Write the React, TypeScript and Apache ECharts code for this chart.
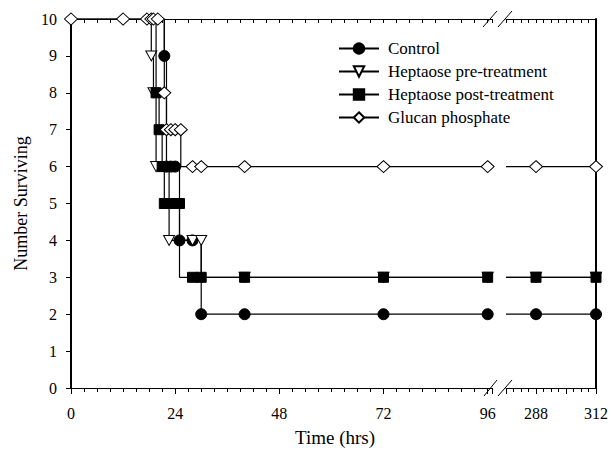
import React, { useEffect, useRef } from "react";
import * as echarts from "echarts";

// ---- data (hours, number alive, whether a marker is drawn at that point) ----
const seriesNames = ["Control", "Heptaose pre-treatment", "Heptaose post-treatment", "Glucan phosphate"];

const controlHours = [0, 21.5, 22, 23, 24, 25, 28, 30, 40, 72, 96, 288, 312];
const controlAlive = [10, 9, 6, 6, 6, 4, 4, 2, 2, 2, 2, 2, 2];
const controlMarked = [0, 1, 1, 1, 1, 1, 1, 1, 1, 1, 1, 1, 1];

const hepPreHours = [0, 18.5, 19, 19.6, 22.6, 28, 30, 30, 40, 72, 96, 288, 312];
const hepPreAlive = [10, 9, 8, 6, 4, 4, 4, 3, 3, 3, 3, 3, 3];
const hepPreMarked = [0, 1, 1, 1, 1, 1, 1, 0, 1, 1, 1, 1, 1];

const hepPostHours = [0, 19.6, 20.3, 21, 21.5, 22, 23, 24, 25, 25, 28, 30, 40, 72, 96, 288, 312];
const hepPostAlive = [10, 8, 7, 6, 5, 5, 5, 5, 5, 3, 3, 3, 3, 3, 3, 3, 3];
const hepPostMarked = [0, 1, 1, 1, 1, 1, 1, 1, 1, 0, 1, 1, 1, 1, 1, 1, 1];

const glucanHours = [0, 12, 17.5, 18.5, 19, 20, 21.5, 22, 23, 24, 25.3, 25.3, 28, 30, 40, 72, 96, 288, 312];
const glucanAlive = [10, 10, 10, 10, 10, 10, 8, 7, 7, 7, 7, 6, 6, 6, 6, 6, 6, 6, 6];
const glucanMarked = [1, 1, 1, 1, 1, 1, 1, 1, 1, 1, 1, 0, 1, 1, 1, 1, 1, 1, 1];

const leftTickLabels = [0, 24, 48, 72, 96];
const rightTickLabels = [288, 312];

// axis segments of the broken time axis
const LEFT_MIN = 0;
const LEFT_MAX = 97;
const RIGHT_MIN = 276;
const RIGHT_MAX = 312;

const FONT = "Liberation Serif";

function split(hours: number[], alive: number[], marked: number[]) {
  const left: any[] = [];
  const right: any[] = [];
  let last = alive[0];
  hours.forEach((h, i) => {
    const item: any = { value: [h, alive[i]] };
    if (!marked[i]) item.symbol = "none";
    if (h <= LEFT_MAX) {
      left.push(item);
      last = alive[i];
    } else right.push(item);
  });
  left.push({ value: [LEFT_MAX, last], symbol: "none" });
  right.unshift({ value: [RIGHT_MIN, last], symbol: "none" });
  return { left, right };
}

export default function App() {
  const ref = useRef<HTMLDivElement>(null);
  useEffect(() => {
    if (!ref.current) return;
    const chart = echarts.init(ref.current, undefined, { renderer: "svg" });

    const styles: any[] = [
      { symbol: "circle", symbolSize: 11, itemStyle: { color: "#000", borderColor: "#000", borderWidth: 1 } },
      { symbol: "triangle", symbolSize: [11, 10], symbolRotate: 180, itemStyle: { color: "#fff", borderColor: "#000", borderWidth: 1 } },
      { symbol: "rect", symbolSize: 10, itemStyle: { color: "#000", borderColor: "#000", borderWidth: 1 } },
      { symbol: "diamond", symbolSize: [13, 12], itemStyle: { color: "#fff", borderColor: "#000", borderWidth: 1 } },
    ];
    const sets = [
      split(controlHours, controlAlive, controlMarked),
      split(hepPreHours, hepPreAlive, hepPreMarked),
      split(hepPostHours, hepPostAlive, hepPostMarked),
      split(glucanHours, glucanAlive, glucanMarked),
    ];
    const series: any[] = [];
    sets.forEach((s, i) => {
      [s.left, s.right].forEach((data, g) => {
        series.push({
          type: "line",
          name: seriesNames[i],
          xAxisIndex: g === 0 ? 0 : 2,
          yAxisIndex: g,
          step: "end",
          data,
          ...styles[i],
          showAllSymbol: true,
          lineStyle: { color: "#000", width: 1.2 },
          emphasis: { disabled: true },
          z: 2 + i,
        });
      });
    });

    const axisBase = (grid: number, min: number, max: number, interval: number, split: number, top: boolean, labels: number[]) => ({
      type: "value",
      gridIndex: grid,
      position: top ? "top" : "bottom",
      min,
      max,
      interval,
      axisLine: { show: true, onZero: false, lineStyle: { color: "#000", width: 1 } },
      axisTick: { show: true, inside: top, length: top ? 4 : 6, lineStyle: { color: "#000", width: 1 } },
      minorTick: { show: true, splitNumber: split, length: 4, lineStyle: { color: "#000", width: 1 } },
      axisLabel: {
        show: !top,
        margin: 17,
        fontSize: 16,
        fontFamily: FONT,
        color: "#000",
        formatter: (v: number) => (labels.indexOf(v) >= 0 ? String(v) : ""),
      },
      splitLine: { show: false },
      minorSplitLine: { show: false },
    });

    const option: any = {
      animation: false,
      backgroundColor: "#fff",
      textStyle: { fontFamily: FONT },
      grid: [
        { left: 71, right: 119, top: 19, bottom: 66 },
        { left: 506, right: 14, top: 19, bottom: 66 },
      ],
      xAxis: [
        axisBase(0, LEFT_MIN, LEFT_MAX, 24, 8, false, leftTickLabels),
        axisBase(0, LEFT_MIN, LEFT_MAX, 24, 8, true, leftTickLabels),
        axisBase(1, RIGHT_MIN, RIGHT_MAX, 12, 4, false, rightTickLabels),
        axisBase(1, RIGHT_MIN, RIGHT_MAX, 12, 4, true, rightTickLabels),
      ],
      yAxis: [
        {
          type: "value",
          gridIndex: 0,
          min: 0,
          max: 10,
          interval: 1,
          name: "Number Surviving",
          nameLocation: "middle",
          nameGap: 41,
          nameTextStyle: { fontSize: 18, fontFamily: FONT, color: "#000" },
          axisLine: { show: true, onZero: false, lineStyle: { color: "#000", width: 2 } },
          axisTick: { show: true, length: 5, lineStyle: { color: "#000", width: 1 } },
          axisLabel: { margin: 14, fontSize: 16, fontFamily: FONT, color: "#000" },
          splitLine: { show: false },
        },
        {
          type: "value",
          gridIndex: 1,
          position: "right",
          min: 0,
          max: 10,
          interval: 1,
          axisLine: { show: true, onZero: false, lineStyle: { color: "#000", width: 2 } },
          axisTick: { show: false },
          axisLabel: { show: false },
          splitLine: { show: false },
        },
      ],
      legend: {
        data: seriesNames,
        orient: "vertical",
        left: 338,
        top: 40,
        padding: 0,
        itemWidth: 40,
        itemHeight: 13,
        itemGap: 6,
        selectedMode: false,
        textStyle: { fontSize: 17, fontFamily: FONT, color: "#000", padding: [0, 0, 0, 4] },
      },
      graphic: [
        { type: "line", shape: { x1: 484, y1: 396, x2: 497, y2: 380 }, style: { stroke: "#000", lineWidth: 1 } },
        { type: "line", shape: { x1: 498, y1: 396, x2: 512, y2: 380 }, style: { stroke: "#000", lineWidth: 1 } },
        { type: "line", shape: { x1: 483, y1: 27, x2: 497, y2: 11 }, style: { stroke: "#000", lineWidth: 1 } },
        { type: "line", shape: { x1: 498, y1: 27, x2: 512, y2: 11 }, style: { stroke: "#000", lineWidth: 1 } },
        {
          type: "text",
          x: 335,
          y: 437,
          style: { text: "Time (hrs)", fontSize: 19, fontFamily: FONT, fill: "#000", textAlign: "center", textVerticalAlign: "middle" },
        },
      ],
      series,
    };
    chart.setOption(option);
    return () => chart.dispose();
  }, []);
  return <div ref={ref} style={{ width: 611, height: 454, position: "absolute", left: 0, top: 0 }} />;
}
